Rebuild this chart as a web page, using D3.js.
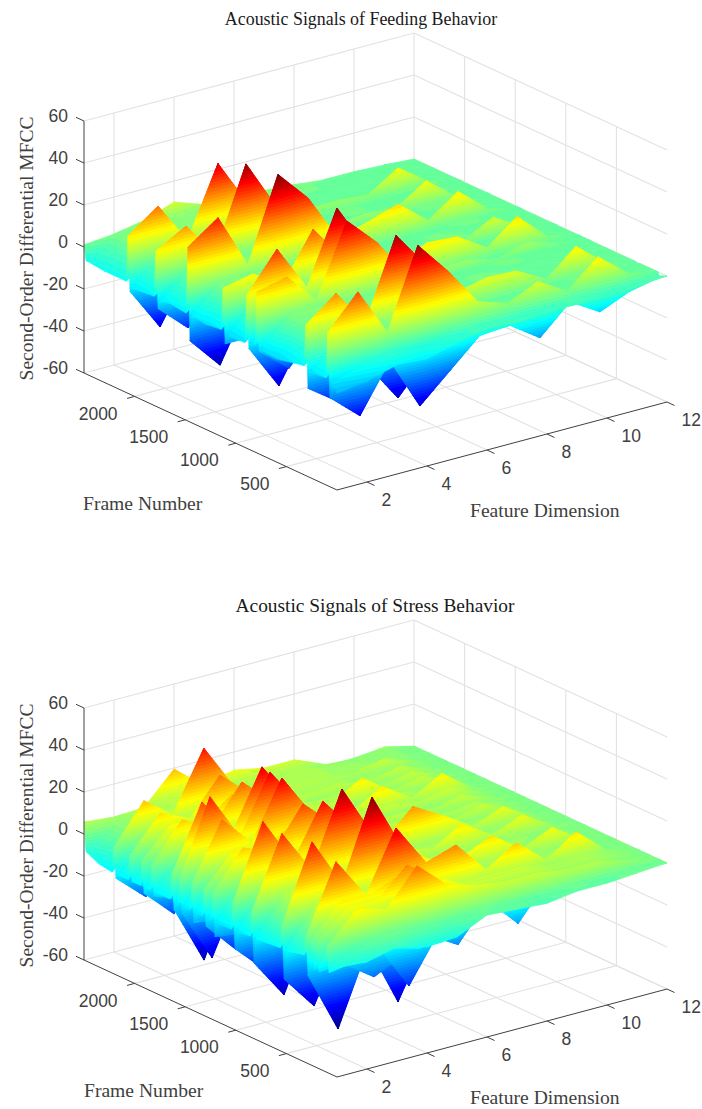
<!DOCTYPE html>
<html>
<head>
<meta charset="utf-8">
<script src="https://cdn.jsdelivr.net/npm/d3@7"></script>
<style>
  html, body { margin: 0; padding: 0; background: #fff; }
  svg { display: block; }
</style>
</head>
<body>
<script>
// tick labels
var dimTicks = [2, 4, 6, 8, 10, 12];
var frameTicks = [500, 1000, 1500, 2000];
var mfccTicks = [-60, -40, -20, 0, 20, 40, 60];
var dims = [1, 2, 3, 4, 5, 6, 7, 8, 9, 10, 11, 12];

// colour limits of each surface
var feedingLimits = [-40, 46];
var stressLimits = [-48, 50];

// frames kept from the picture, front of the plot first
var feedingFrames = [0, 50, 70, 90, 110, 266, 286, 306, 326, 600, 750, 770, 790, 810, 850, 870, 890, 910, 1085, 1105, 1125, 1145, 1300, 1432, 1452, 1472, 1492, 1650, 1748, 1768, 1788, 1808, 2025, 2045, 2065, 2085, 2300, 2480, 2500];

var feedingMfcc = [
  [-14, -12, -8, -9, -5, -2, -3, -2, -2, -2, -1, 0],
  [-10, -6, -4, -5, -4, -2, -3, -3, -1, -3, -2, -1],
  [-17.6, -30, -7.6, -33, -20, -7, -6, -15.7, -2.4, -11, -5, -2],
  [13, 28.5, 5, 43, 27, 8.6, 4, 10.5, 2, 14.7, 3, 0],
  [-9, 3, 3, 3, 2, 2, 1, 2, 1, 1, 1, 0],
  [-10, 2, 3, 2, 2, 1, 1, 1, 1, 2, 1, 0],
  [-18, -28, -15, -34, -18, -6, -5, -4, -2, -4, -2, -1],
  [11.8, 23, 5, 43, 25, 8, 11.3, 10.8, 3, 14.8, 3, 0],
  [-8, 3, 3, 3, 2, 1, 2, 1, 1, 1, 1, 0],
  [-11, 2, 3, 2, 2, 1, 1, 2, 1, 1, 1, 0],
  [-10, 3, 3, 3, 1, 1, 1, 1, 2, 1, 1, 0],
  [-11, -23, -7, -14, -7, -3, -2, -2, -1, -3, -1, 0],
  [16.7, 20, 5, 39, 25, 6, 5, 5, 2, 6, 2, 0],
  [-9, 3, 3, 2, 1, 2, 1, 1, 1, 1, 1, 0],
  [-10, 2, 2, 3, 1, 1, 1, 2, 1, 2, 1, 0],
  [-12, -33.6, -9, -15, -6, -4, -6, -5, -2, -6, -1, 0],
  [13, 31, 9, 43, 20, 8, 15, 14, 5, 16, 3, 0],
  [-10, 3, 3, 2, 2, 1, 1, 1, 1, 1, 1, 0],
  [-11, 2, 3, 2, 1, 2, 1, 2, 1, 1, 1, 0],
  [-15, -15, -6, -10, -5, -2, -2, -3, -1, -3, -1, 0],
  [11, 14, 5, 27.6, 10, 5, 4, 5, 3, 10.5, 2, 0],
  [-9, 3, 3, 3, 1, 1, 2, 1, 1, 1, 1, 0],
  [-10, 2, 3, 2, 2, 1, 1, 1, 2, 1, 1, 0],
  [-9, 3, 3, 3, 1, 1, 1, 1, 1, 2, 1, 0],
  [-21.4, -36.7, -9, -14, -6, -3, -4, -5, -1, -5, -1, 0],
  [22.9, 33, 6.7, 46, 31, 8, 12, 16.6, 5, 15, 3, 0],
  [-9, 3, 3, 2, 1, 1, 1, 2, 1, 1, 1, 0],
  [-8, 2, 3, 3, 2, 1, 1, 1, 1, 1, 1, 0],
  [-9, 2, 3, 2, 1, 2, 1, 1, 1, 2, 1, 0],
  [-13, -26, -7, -12, -6, -2, -2, -3, -1, -4, -1, 0],
  [14, 22, 5, 44, 20, 6, 4, 5, 4, 13, 2, 0],
  [-8, 2, 3, 3, 1, 1, 1, 1, 1, 1, 1, 0],
  [-9, 2, 3, 2, 2, 1, 1, 2, 1, 1, 1, 0],
  [-11, -31.7, -8, -11, -5, -2, -2, -2, -1, -3, -1, 0],
  [15, 25.4, 5, 38, 15, 5, 5, 5, 4, 13, 3, 0],
  [-7, 2, 3, 3, 1, 1, 1, 1, 1, 1, 1, 0],
  [-7, 2, 3, 3, 2, 2, 2, 1, 1, 1, 1, 0],
  [-6, 2, 3, 5, 3, 3, 2, 2, 1, 1, 1, 0],
  [1, 2.4, 5, 10, 5, 4, 4, 3, 1.5, 1.5, 1, 0]
];

var stressFrames = [0, 59, 79, 99, 119, 158, 178, 198, 218, 227, 247, 266, 286, 306, 326, 483, 503, 523, 543, 563, 780, 800, 820, 840, 860, 968, 988, 1008, 1028, 1048, 1165, 1185, 1205, 1225, 1245, 1274, 1294, 1314, 1334, 1393, 1413, 1433, 1453, 1511, 1531, 1551, 1571, 1590, 1610, 1630, 1650, 1788, 1808, 1828, 1848, 1887, 1907, 1927, 1947, 2005, 2025, 2045, 2065, 2164, 2184, 2204, 2224, 2350, 2480, 2500];

var stressMfcc = [
  [-8, -9, -5.7, -9.5, -8.6, -2, -3, -4, -2, -2, -1, 0],
  [-8, -3, 0, -2, -3, -1, -2, -3, -1, -2, -1, 0],
  [-12, -10, -8, -12, -9, -3, -4, -5, -2, -3, -2, 0],
  [0, 14, 10, 26.9, 14, 10, 8, 8, 6, 6, 3, 0],
  [-8, 8, 8, 7, 6, 5, 4, 4, 3, 2, 1, 0],
  [-8, 9, 9, 8, 7, 6, 5, 4, 3, 2, 1, 0],
  [-14, -12, -10, -32, -10, -4, -4, -4, -2, -3, -2, 0],
  [0, 12, 12, 25, 15, 8, 8, 8, 5, 6, 3, 0],
  [-9, 8, 9, 7, 6, 6, 5, 4, 3, 2, 1, 0],
  [-14, -15, -25, -18, -9, -4, -4, -4, -2, -3, -2, 0],
  [0, 15, 14, 20, 14, 8, 8, 8, 5, 6, 3, 0],
  [-9, 9, 8, 8, 7, 5, 5, 4, 4, 2, 1, 0],
  [-18, -47.3, -12, -42, -14, -22.4, -5, -20, -3, -4, -2, 0],
  [0, 31.8, 12, 40.3, 20, 24.6, 9, 18, 6, 15.6, 3, 0],
  [-9, 8, 9, 7, 7, 6, 4, 5, 3, 2, 1, 0],
  [-11, 8, 8, 8, 6, 6, 5, 4, 4, 3, 2, 0],
  [-11, 7, 9, 7, 7, 5, 5, 5, 4, 3, 1, 0],
  [-25, -41.6, -12, -31.6, -10, -4, -3, -5, -2, -3, -1, 0],
  [0, 36, 12, 49.8, 22, 12, 10, 16, 6, 12.4, 3, 0],
  [-11, 8, 8, 8, 7, 6, 4, 5, 4, 2, 2, 0],
  [-12, 7, 9, 7, 7, 6, 5, 4, 4, 3, 2, 0],
  [-12, 6, 8, 8, 6, 5, 5, 5, 3, 3, 1, 0],
  [-24, -42.9, -10, -18, -8, -3, -3, -4, -2, -3, -1, 0],
  [0, 33.3, 12, 47, 22, 10, 7, 15, 6, 11.7, 3, 0],
  [-12, 7, 8, 8, 7, 6, 5, 5, 4, 3, 2, 0],
  [-13, 6, 9, 7, 7, 5, 5, 4, 4, 3, 2, 0],
  [-13, 6, 8, 8, 6, 6, 4, 5, 3, 3, 1, 0],
  [-21.4, -35.2, -10, -16, -7, -3, -2, -3, -2, -3, -1, 0],
  [0, 34.8, 12, 37, 20, 10, 23, 14.8, 6, 11.4, 3, 0],
  [-13, 6, 9, 7, 7, 6, 5, 5, 4, 3, 2, 0],
  [-13, 5, 8, 8, 6, 5, 5, 4, 4, 3, 2, 0],
  [-13, 5, 8, 7, 7, 6, 4, 5, 3, 3, 1, 0],
  [-20, -22, -8, -13, -6, -2, -2, -3, -1, -2, -1, 0],
  [0, 18, 12, 31.3, 18, 9, 7, 7, 5, 8, 3, 0],
  [-13, 5, 9, 7, 7, 5, 5, 4, 4, 3, 2, 0],
  [-13, 5, 8, 8, 6, 6, 4, 5, 4, 3, 2, 0],
  [-17, -32, -8, -12, -6, -2, -2, -2, -1, -2, -1, 0],
  [0, 15, 12, 20, 14, 8, 7, 7, 5, 7, 3, 0],
  [-13, 5, 8, 7, 7, 6, 5, 4, 3, 3, 1, 0],
  [-13, 5, 9, 8, 6, 5, 5, 5, 4, 3, 2, 0],
  [-18, -20, -8, -13, -6, -2, -2, -2, -1, -2, -1, 0],
  [0, 26.7, 12, 39, 18, 9, 7, 7, 5, 8, 3, 0],
  [-13, 5, 8, 8, 7, 6, 4, 4, 4, 3, 2, 0],
  [-13, 4, 8, 7, 7, 6, 5, 4, 3, 3, 2, 0],
  [-16, -41.2, -10, -14, -6, -3, -2, -3, -1, -3, -1, 0],
  [0, 35, 12, 39.2, 20, 9, 7, 8, 6, 9, 3, 0],
  [-13, 4, 8, 8, 6, 5, 5, 4, 4, 3, 1, 0],
  [-13, 4, 8, 7, 7, 6, 4, 5, 4, 3, 2, 0],
  [-16, -44, -10, -14, -6, -3, -2, -3, -1, -3, -1, 0],
  [0, 30.8, 12, 39.9, 20, 9, 7, 15.3, 6, 13.8, 3, 0],
  [-12, 4, 8, 7, 6, 6, 5, 4, 4, 4, 2, 0],
  [-12, 4, 7, 8, 7, 5, 4, 4, 5, 3, 2, 0],
  [-14, -20, -7, -11, -5, -2, -2, -2, -1, -2, -1, 0],
  [0, 18, 10, 28.3, 15, 8, 7, 14.8, 5, 8, 3, 0],
  [-12, 4, 8, 7, 7, 5, 5, 4, 4, 3, 2, 0],
  [-12, 3, 7, 8, 6, 6, 4, 4, 4, 3, 2, 0],
  [-15, -28.6, -8, -10, -5, -2, -2, -2, -1, -2, -1, 0],
  [0, 14, 10, 20, 12, 7, 6, 6, 5, 8, 3, 0],
  [-12, 3, 8, 7, 7, 5, 4, 4, 4, 3, 2, 0],
  [-12, 3, 7, 7, 6, 6, 4, 5, 4, 3, 2, 0],
  [-12, -22, -7, -10, -5, -2, -2, -2, -1, -2, -1, 0],
  [0, 16, 10, 26.7, 14, 7, 6, 7, 5, 8, 3, 0],
  [-12, 3, 7, 7, 6, 6, 5, 4, 4, 3, 2, 0],
  [-12, 3, 6, 7, 6, 6, 5, 5, 4, 3, 2, 0],
  [-14, -26.7, -8, -12, -5, -2, -2, -2, -1, -2, -1, 0],
  [0, 18.6, 8, 36, 14, 7, 6, 6, 5, 8, 3, 0],
  [-12, 2, 7, 6, 6, 6, 6, 5, 4, 3, 2, 0],
  [-11, 2, 6, 6, 5, 5, 6, 5, 4, 3, 2, 0],
  [-8, 2, 5, 8, 6, 6, 6, 5, 3, 2, 2, 0],
  [5.7, 4.3, 5, 19.5, 8, 11.4, 8.6, 8.6, 1.4, 1.9, 3.3, 0]
];

var width = 702;
var height = 1109;

var svg = d3.select("body").append("svg")
    .attr("width", width)
    .attr("height", height);

// axonometric box: each data axis moves the point along one screen direction
var dimX = d3.scaleLinear().domain([1, 12]).range([0, 330]);
var dimY = d3.scaleLinear().domain([1, 12]).range([0, -88]);
var frameX = d3.scaleLinear().domain([0, 2500]).range([0, -253]);
var frameY = d3.scaleLinear().domain([0, 2500]).range([0, -117]);
var mfccY = d3.scaleLinear().domain([-60, 60]).range([0, -252]);

function px(d, f) { return dimX(d) + frameX(f); }
function py(d, f, z) { return dimY(d) + frameY(f) + mfccY(z); }

// MATLAB jet
var jetStops = [0, 0.125, 0.375, 0.625, 0.875, 1];
var jetColors = ["#000080", "#0000ff", "#00ffff", "#ffff00", "#ff0000", "#800000"];

// cut a triangle to the part between z0 and z1
function clipBand(tri, z0, z1) {
    function clip(pts, keep, level) {
        var out = [];
        pts.forEach(function(a, i) {
            var b = pts[(i + 1) % pts.length];
            if (keep(a[2])) out.push(a);
            if (keep(a[2]) !== keep(b[2])) {
                var t = (level - a[2]) / (b[2] - a[2]);
                out.push([a[0] + t * (b[0] - a[0]), a[1] + t * (b[1] - a[1]), level]);
            }
        });
        return out;
    }
    var p = clip(tri, function(z) { return z >= z0; }, z0);
    if (p.length) p = clip(p, function(z) { return z <= z1; }, z1);
    return p;
}

function drawSurface(g, frames, mfcc, limits) {
    var jet = d3.scaleLinear()
        .domain(jetStops.map(function(s) { return limits[0] + s * (limits[1] - limits[0]); }))
        .range(jetColors)
        .clamp(true);

    var bands = [];
    var step = 1.5;
    // painter's order: far frames first, high dimensions first
    for (var r = frames.length - 2; r >= 0; r--) {
        for (var c = dims.length - 2; c >= 0; c--) {
            var a = [dims[c], frames[r], mfcc[r][c]];
            var b = [dims[c + 1], frames[r], mfcc[r][c + 1]];
            var e = [dims[c + 1], frames[r + 1], mfcc[r + 1][c + 1]];
            var h = [dims[c], frames[r + 1], mfcc[r + 1][c]];
            [[e, h, b], [h, a, b]].forEach(function(tri) {
                var lo = d3.min(tri, function(v) { return v[2]; });
                var hi = d3.max(tri, function(v) { return v[2]; });
                // a flat triangle still needs its one band
                for (var z = Math.floor(lo / step) * step; z <= hi; z += step) {
                    var poly = clipBand(tri, z, z + step);
                    if (poly.length > 2) bands.push({pts: poly, color: jet(z + step / 2)});
                }
            });
        }
    }

    var outline = d3.line()
        .x(function(v) { return px(v[0], v[1]); })
        .y(function(v) { return py(v[0], v[1], v[2]); });

    g.append("g").selectAll("path")
        .data(bands)
        .join("path")
        .attr("d", function(d) { return outline(d.pts) + "Z"; })
        .attr("fill", function(d) { return d.color; })
        .attr("stroke", function(d) { return d.color; })
        .attr("stroke-width", 0.6);
}

function drawBox(g) {
    var grid = g.append("g")
        .attr("stroke", "#e2e2e2")
        .attr("stroke-width", 1.1)
        .attr("fill", "none");

    function seg(d1, f1, z1, d2, f2, z2) {
        grid.append("line")
            .attr("x1", px(d1, f1)).attr("y1", py(d1, f1, z1))
            .attr("x2", px(d2, f2)).attr("y2", py(d2, f2, z2));
    }

    dimTicks.forEach(function(d) {
        seg(d, 0, -60, d, 2500, -60);
        seg(d, 2500, -60, d, 2500, 60);
    });
    frameTicks.forEach(function(f) {
        seg(1, f, -60, 12, f, -60);
        seg(12, f, -60, 12, f, 60);
    });
    mfccTicks.forEach(function(z) {
        seg(1, 2500, z, 12, 2500, z);
        seg(12, 2500, z, 12, 0, z);
    });
}

function drawAxes(g) {
    var ink = "#404040";
    var ax = g.append("g").attr("stroke", ink).attr("stroke-width", 1).attr("fill", "none");
    var labels = g.append("g")
        .attr("fill", ink)
        .style("font-family", "'Liberation Sans', Arial, sans-serif")
        .style("font-size", "17.5px");

    function seg(x1, y1, x2, y2) {
        ax.append("line").attr("x1", x1).attr("y1", y1).attr("x2", x2).attr("y2", y2);
    }

    seg(px(1, 2500), py(1, 2500, -60), px(1, 2500), py(1, 2500, 60));
    seg(px(1, 2500), py(1, 2500, -60), px(1, 0), py(1, 0, -60));
    seg(px(1, 0), py(1, 0, -60), px(12, 0), py(12, 0, -60));

    mfccTicks.forEach(function(z) {
        var x = px(1, 2500), y = py(1, 2500, z);
        seg(x, y, x - 8, y - 3.7);
        labels.append("text")
            .attr("x", x - 16).attr("y", y - 5)
            .attr("dy", "0.35em")
            .attr("text-anchor", "end")
            .text(z);
    });
    frameTicks.forEach(function(f) {
        var x = px(1, f), y = py(1, f, -60);
        seg(x, y, x - 7.5, y + 2);
        labels.append("text")
            .attr("x", x - 17).attr("y", y + 17)
            .attr("dy", "0.35em")
            .attr("text-anchor", "end")
            .text(f);
    });
    dimTicks.forEach(function(d) {
        var x = px(d, 0), y = py(d, 0, -60);
        seg(x, y, x + 7.5, y + 3.5);
        labels.append("text")
            .attr("x", x + 14.5).attr("y", y + 18)
            .attr("dy", "0.35em")
            .text(d);
    });
}

function serif(g, txt, x, y, size, color) {
    return g.append("text")
        .attr("x", x).attr("y", y)
        .attr("fill", color)
        .style("font-family", "'Liberation Serif', 'Times New Roman', serif")
        .style("font-size", size + "px")
        .text(txt);
}

function drawPanel(originY, title, frames, mfcc, limits, titleX, titleSize, frameLabelX) {
    var g = svg.append("g").attr("transform", "translate(337," + originY + ")");
    drawBox(g);
    drawSurface(g, frames, mfcc, limits);
    drawAxes(g);

    serif(g, title, titleX - 337, -465, titleSize, "#1a1a1a").attr("text-anchor", "middle");
    serif(g, "Frame Number", frameLabelX - 337, 20, 19.6, "#404040");
    serif(g, "Feature Dimension", 470 - 337, 27, 19.6, "#404040");
    serif(g, "Second-Order Differential MFCC", 0, 0, 19.5, "#404040")
        .attr("x", null).attr("y", null)
        .attr("text-anchor", "middle")
        .attr("transform", "translate(" + (33 - 337) + ",-241.5) rotate(-90)");
}

drawPanel(490, "Acoustic Signals of Feeding Behavior", feedingFrames, feedingMfcc, feedingLimits, 361, 17.9, 83);
drawPanel(1077, "Acoustic Signals of Stress Behavior", stressFrames, stressMfcc, stressLimits, 375, 19.4, 84);
</script>
</body>
</html>
